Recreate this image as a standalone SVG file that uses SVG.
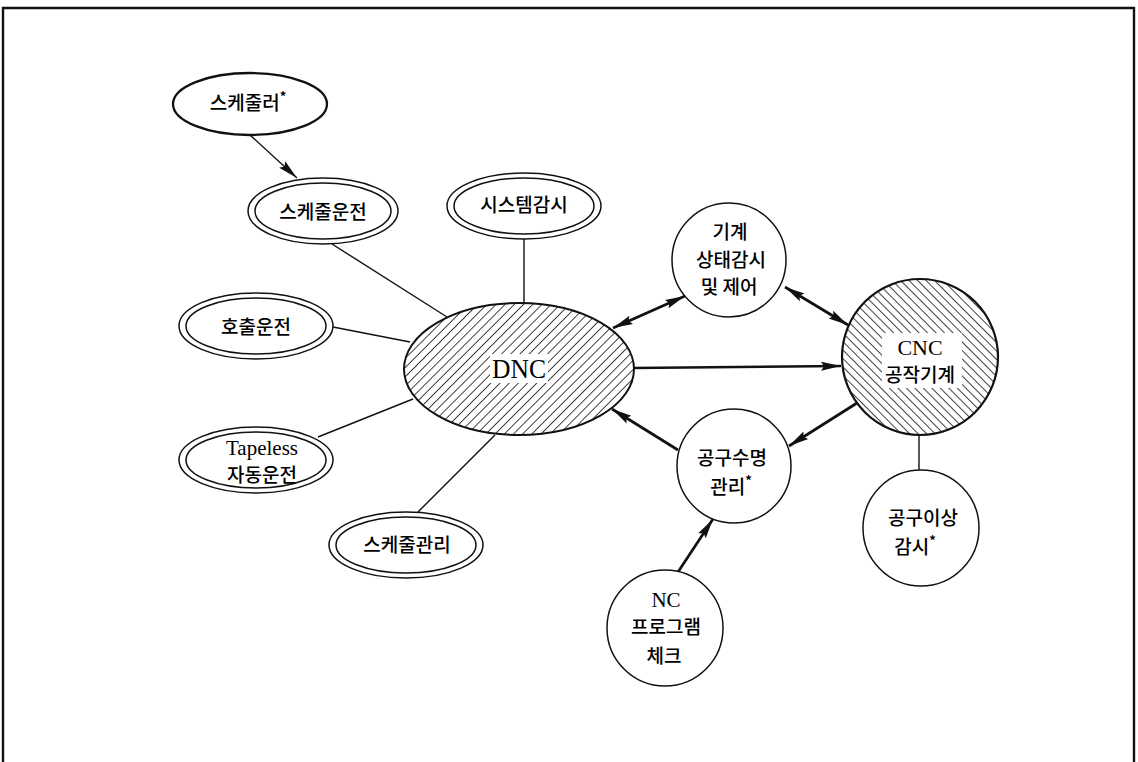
<svg xmlns="http://www.w3.org/2000/svg" width="1138" height="762" viewBox="0 0 1138 762">
<style>
.ko{font-family:"Noto Sans CJK KR","Noto Sans",sans-serif;font-size:19px;font-weight:500;fill:#000;text-anchor:middle}
.la{font-family:"Liberation Serif","Times New Roman",serif;fill:#000;text-anchor:middle}
.sup{font-size:13px;font-weight:bold}
.n{fill:#fff;stroke:#111;stroke-width:1.5}
.thick{fill:none;stroke:#111;stroke-width:2.7}
.thin{fill:none;stroke:#111;stroke-width:1.4}
</style>
<defs>
<pattern id="hatchR" width="6.5" height="8" patternUnits="userSpaceOnUse" patternTransform="rotate(45)">
<line x1="0" y1="0" x2="0" y2="8" stroke="#111" stroke-width="1.6"/>
</pattern>
<pattern id="hatchL" width="6" height="8" patternUnits="userSpaceOnUse" patternTransform="rotate(-45)">
<line x1="0" y1="0" x2="0" y2="8" stroke="#111" stroke-width="1.6"/>
</pattern>
<marker id="ah" markerUnits="userSpaceOnUse" markerWidth="22" markerHeight="12" refX="20" refY="5" orient="auto-start-reverse">
<path d="M0,0.5 L20,5 L0,9.5 L3,5 Z" fill="#111"/>
</marker>
</defs>
<path d="M3,762 L3,8 L1134,8 L1134,762" fill="none" stroke="#111" stroke-width="2.4"/>
<g id="connectors">
<path class="thin" d="M250,135 L297,178" marker-end="url(#ah)"/>
<path class="thin" d="M332,244 L447,317"/>
<path class="thin" d="M524,239 L524,303"/>
<path class="thin" d="M333,327 L410,342"/>
<path class="thin" d="M318,437 L413,399"/>
<path class="thin" d="M418,512 L495,435"/>
<path class="thin" d="M919,435 L919,470"/>
<path class="thick" d="M613,328 L685,296" marker-start="url(#ah)" marker-end="url(#ah)"/>
<path class="thick" d="M785,287 L848,325" marker-start="url(#ah)" marker-end="url(#ah)"/>
<path class="thick" d="M633,368 L841,366" marker-end="url(#ah)"/>
<path class="thick" d="M857,403 L789,446" marker-end="url(#ah)"/>
<path class="thick" d="M678,450 L612,409" marker-end="url(#ah)"/>
<path class="thick" d="M678,572 L713,519" marker-end="url(#ah)"/>
</g>
<g id="scheduler">
<ellipse cx="250" cy="104" rx="77" ry="31" fill="#fff" stroke="#111" stroke-width="2.3"/>
<text class="ko" x="248" y="110">스케줄러<tspan class="sup" dy="-9">*</tspan></text>
</g>
<g id="schedule-run">
<ellipse class="n" cx="323" cy="211" rx="75" ry="33"/>
<ellipse class="n" cx="323" cy="211" rx="68" ry="28"/>
<text class="ko" x="323" y="219">스케줄운전</text>
</g>
<g id="system-monitor">
<ellipse class="n" cx="524" cy="206" rx="77" ry="33"/>
<ellipse class="n" cx="524" cy="206" rx="70" ry="28"/>
<text class="ko" x="524" y="212">시스템감시</text>
</g>
<g id="call-run">
<ellipse class="n" cx="256" cy="326" rx="77" ry="33"/>
<ellipse class="n" cx="256" cy="326" rx="70" ry="28"/>
<text class="ko" x="256" y="334">호출운전</text>
</g>
<g id="tapeless">
<ellipse class="n" cx="256" cy="460" rx="77" ry="33"/>
<ellipse class="n" cx="256" cy="460" rx="70" ry="28"/>
<text class="la" x="262" y="455" font-size="21">Tapeless</text>
<text class="ko" x="262" y="482">자동운전</text>
</g>
<g id="schedule-manage">
<ellipse class="n" cx="406" cy="545" rx="77" ry="33"/>
<ellipse class="n" cx="406" cy="545" rx="70" ry="28"/>
<text class="ko" x="407" y="552">스케줄관리</text>
</g>
<g id="dnc">
<ellipse cx="519" cy="369" rx="115" ry="66" fill="#fff"/>
<ellipse cx="519" cy="369" rx="115" ry="66" fill="url(#hatchR)" stroke="#111" stroke-width="2"/>
<rect x="490" y="354" width="58" height="29" fill="#fff"/>
<text class="la" x="519" y="378" font-size="28" textLength="54" lengthAdjust="spacingAndGlyphs">DNC</text>
</g>
<g id="machine-monitor">
<circle class="n" cx="729" cy="260" r="57"/>
<text class="ko" x="730" y="239">기계</text>
<text class="ko" x="731" y="267">상태감시</text>
<text class="ko" x="729" y="294">및 제어</text>
</g>
<g id="cnc">
<circle cx="920" cy="357" r="78" fill="#fff"/>
<circle cx="920" cy="357" r="78" fill="url(#hatchL)" stroke="#111" stroke-width="2.2"/>
<rect x="882" y="333" width="80" height="55" fill="#fff"/>
<text class="la" x="920" y="355" font-size="22">CNC</text>
<text class="ko" x="920" y="382">공작기계</text>
</g>
<g id="tool-life">
<circle class="n" cx="734" cy="466" r="57"/>
<text class="ko" x="732" y="465">공구수명</text>
<text class="ko" x="731" y="494">관리<tspan class="sup" dy="-9">*</tspan></text>
</g>
<g id="tool-abnormal">
<circle class="n" cx="921" cy="528" r="58"/>
<text class="ko" x="923" y="525">공구이상</text>
<text class="ko" x="915" y="554">감시<tspan class="sup" dy="-9">*</tspan></text>
</g>
<g id="nc-check">
<circle class="n" cx="665" cy="628" r="58"/>
<text class="la" x="666" y="607" font-size="21">NC</text>
<text class="ko" x="666" y="634">프로그램</text>
<text class="ko" x="664" y="663">체크</text>
</g>
</svg>
